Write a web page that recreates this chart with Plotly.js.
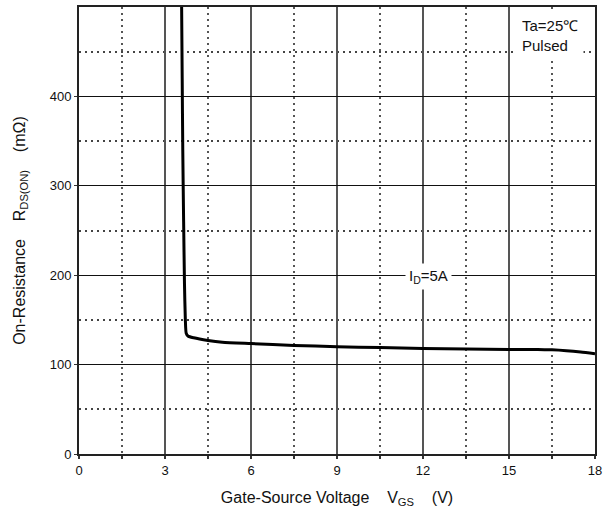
<!DOCTYPE html>
<html>
<head>
<meta charset="utf-8">
<script src="https://cdn.plot.ly/plotly-3.0.1.min.js"></script>
<style>body{margin:0;background:#fff}#chart{width:611px;height:515px}</style>
</head>
<body>
<div id="chart"></div>
<script>
// Gate-source voltage (V)
const vgs = [3.58, 3.6, 3.62, 3.65, 3.68, 3.71, 3.74, 3.8, 4.0, 4.5, 5.0, 6.0, 7.5, 9.0, 10.5, 12.0, 13.5, 15.0, 16.0, 16.5, 17.0, 17.5, 18.0];
// On-resistance RDS(ON) (mOhm)
const rds = [500, 420, 340, 260, 190, 150, 135, 132, 130, 127, 125, 123.5, 121.5, 120, 119, 118, 117.5, 117, 117, 116.5, 115.5, 114, 112];
const xTicks = [0, 3, 6, 9, 12, 15, 18];
const xMinor = [1.5, 4.5, 7.5, 10.5, 13.5, 16.5];
const yTicks = [0, 100, 200, 300, 400];
const yMinor = [50, 150, 250, 350, 450];
const curveLabel = "I<sub>D</sub>=5A";
const condLabel = "Ta=25℃<br>Pulsed";

const font = "Liberation Sans, Arial, sans-serif";
const sp = "\u00a0\u00a0\u00a0\u00a0";
const dot = "2px,4px";

Plotly.newPlot("chart", [{
  x: vgs, y: rds, mode: "lines", type: "scatter",
  line: {color: "#000", width: 3, shape: "spline", smoothing: 0.6},
  hoverinfo: "skip", showlegend: false
}], {
  width: 611, height: 515,
  margin: {l: 79, r: 16, t: 7, b: 61},
  paper_bgcolor: "#fff", plot_bgcolor: "#fff",
  font: {family: font, size: 13, color: "#111"},
  xaxis: {
    range: [0, 18], tickvals: xTicks, ticks: "outside", ticklen: 3, tickcolor: "#333", tickwidth: 1.5,
    showgrid: true, gridcolor: "#555", gridwidth: 2,
    showline: true, mirror: true, linecolor: "#222", linewidth: 2,
    zeroline: false, tickfont: {size: 13, family: font, color: "#111"},
    minor: {tickvals: xMinor, showgrid: true, griddash: dot, gridcolor: "#555", gridwidth: 2, ticks: "outside", ticklen: 3, tickcolor: "#333"},
    title: {text: "Gate-Source Voltage" + sp + "V<sub>GS</sub>" + sp + "(V)", font: {size: 16, family: font, color: "#111"}, standoff: 15}
  },
  yaxis: {
    range: [0, 500], tickvals: yTicks, ticks: "outside", ticklen: 3, tickcolor: "#333",
    showgrid: true, gridcolor: "#111", gridwidth: 1.3,
    showline: true, mirror: true, linecolor: "#222", linewidth: 2,
    zeroline: false, tickfont: {size: 13, family: font, color: "#111"},
    minor: {tickvals: yMinor, showgrid: true, griddash: dot, gridcolor: "#444", gridwidth: 2},
    title: {text: "On-Resistance" + sp + "R<sub>DS(ON)</sub>" + sp + "(mΩ)", font: {size: 16, family: font, color: "#111"}, standoff: 20}
  },
  annotations: [
    {x: 12.2, y: 199, xref: "x", yref: "y", text: curveLabel, showarrow: false,
     font: {size: 15, family: font, color: "#111"}, bgcolor: "#fff", borderpad: 3},
    {x: 17.6, y: 496, xref: "x", yref: "y", xanchor: "right", yanchor: "top", align: "left",
     text: condLabel, showarrow: false, font: {size: 15, family: font, color: "#111"},
     bgcolor: "#fff", borderpad: 5}
  ]
}, {displayModeBar: false, staticPlot: true});
</script>
</body>
</html>
